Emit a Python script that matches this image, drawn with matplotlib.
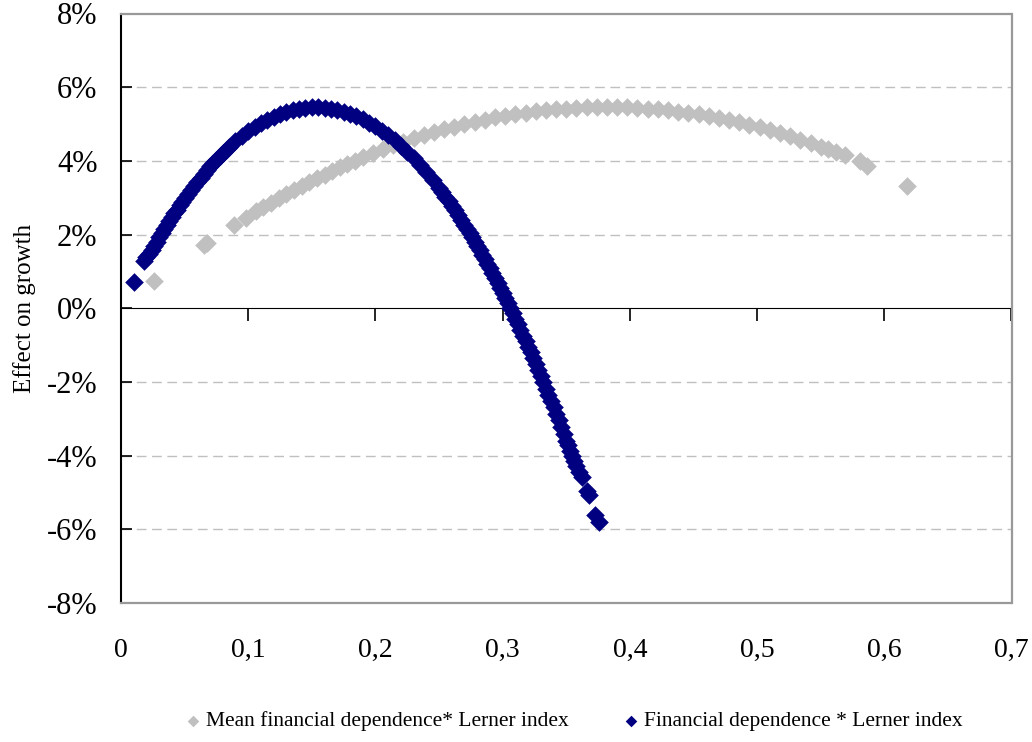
import matplotlib
matplotlib.use("Agg")
import matplotlib.pyplot as plt
from matplotlib.ticker import FuncFormatter, FixedLocator

# ---- data ----
mean_x = [0.0256, 0.0650, 0.0677, 0.0887, 0.0980, 0.1058, 0.112, 0.118, 0.124, 0.130,
          0.136, 0.142, 0.148, 0.154, 0.160, 0.166, 0.172, 0.178, 0.184, 0.190,
          0.198, 0.206, 0.214, 0.222, 0.230, 0.238, 0.246, 0.254, 0.262, 0.270,
          0.278, 0.286, 0.294, 0.302, 0.310, 0.318, 0.326, 0.334, 0.342, 0.350,
          0.358, 0.366, 0.374, 0.382, 0.390, 0.398, 0.406, 0.414, 0.422, 0.430,
          0.438, 0.446, 0.454, 0.462, 0.470, 0.478, 0.486, 0.494, 0.502, 0.510,
          0.518, 0.526, 0.534, 0.542, 0.550, 0.556, 0.562, 0.5688, 0.5807, 0.5865,
          0.618]
mean_y = [0.73, 1.72, 1.77, 2.27, 2.46, 2.63, 2.75, 2.87, 2.99, 3.10,
          3.22, 3.32, 3.43, 3.53, 3.63, 3.73, 3.83, 3.92, 4.01, 4.10,
          4.21, 4.31, 4.42, 4.51, 4.61, 4.69, 4.78, 4.86, 4.93, 5.00,
          5.06, 5.12, 5.18, 5.23, 5.27, 5.31, 5.35, 5.38, 5.40, 5.42,
          5.44, 5.45, 5.46, 5.46, 5.46, 5.45, 5.44, 5.42, 5.40, 5.37,
          5.34, 5.30, 5.26, 5.21, 5.16, 5.11, 5.05, 4.98, 4.91, 4.84,
          4.76, 4.67, 4.58, 4.49, 4.39, 4.31, 4.23, 4.15, 3.99, 3.87,
          3.32]

fin_x = [0.0103, 0.018, 0.020, 0.022, 0.024, 0.026, 0.028, 0.030, 0.032, 0.034,
         0.036, 0.038, 0.040, 0.042, 0.044, 0.046, 0.048, 0.050, 0.0525, 0.055,
         0.0575, 0.060, 0.0625, 0.065, 0.0675, 0.070, 0.0725, 0.075, 0.0775, 0.080,
         0.0825, 0.085, 0.090, 0.095, 0.100, 0.105, 0.110, 0.115, 0.120, 0.125,
         0.130, 0.135, 0.140, 0.145, 0.150, 0.155, 0.160, 0.165, 0.170, 0.175,
         0.180, 0.185, 0.190, 0.195, 0.200, 0.205, 0.210, 0.215, 0.220, 0.225,
         0.230, 0.235, 0.240, 0.245, 0.250, 0.2525, 0.255, 0.2575, 0.260, 0.2625,
         0.265, 0.2675, 0.270, 0.272, 0.274, 0.276, 0.278, 0.280, 0.282, 0.284,
         0.286, 0.288, 0.290, 0.292, 0.294, 0.296, 0.298, 0.300, 0.302, 0.304,
         0.306, 0.308, 0.310, 0.312, 0.314, 0.316, 0.318, 0.320, 0.322, 0.324,
         0.326, 0.328, 0.330, 0.332, 0.334, 0.336, 0.338, 0.340, 0.342, 0.344,
         0.346, 0.348, 0.350, 0.3515, 0.353, 0.3545, 0.356, 0.3575, 0.360, 0.3623,
         0.3660, 0.3676, 0.3729, 0.3755]
fin_y = [0.71, 1.28, 1.38, 1.46, 1.58, 1.70, 1.81, 1.93, 2.04, 2.15,
         2.26, 2.37, 2.48, 2.58, 2.68, 2.79, 2.88, 2.98, 3.10, 3.21,
         3.33, 3.44, 3.54, 3.65, 3.75, 3.85, 3.94, 4.03, 4.12, 4.21,
         4.29, 4.37, 4.53, 4.67, 4.80, 4.91, 5.02, 5.11, 5.20, 5.27,
         5.33, 5.37, 5.41, 5.44, 5.45, 5.45, 5.44, 5.42, 5.38, 5.34,
         5.28, 5.21, 5.13, 5.04, 4.94, 4.82, 4.69, 4.56, 4.40, 4.24,
         4.07, 3.88, 3.69, 3.48, 3.26, 3.15, 3.03, 2.91, 2.78, 2.66,
         2.53, 2.40, 2.26, 2.15, 2.04, 1.93, 1.81, 1.69, 1.58, 1.45,
         1.33, 1.21, 1.08, 0.95, 0.82, 0.69, 0.55, 0.42, 0.28, 0.14,
         0.00, -0.14, -0.29, -0.44, -0.58, -0.74, -0.89, -1.04, -1.20, -1.36,
         -1.52, -1.68, -1.84, -2.01, -2.18, -2.35, -2.52, -2.69, -2.87, -3.04,
         -3.23, -3.40, -3.59, -3.72, -3.87, -4.00, -4.15, -4.29, -4.45, -4.58,
         -4.95, -5.08, -5.62, -5.80]

x_ticks = [0, 0.1, 0.2, 0.3, 0.4, 0.5, 0.6, 0.7]
x_tick_labels = ["0", "0,1", "0,2", "0,3", "0,4", "0,5", "0,6", "0,7"]
y_ticks = [-8, -6, -4, -2, 0, 2, 4, 6, 8]

series_names = ["Mean financial dependence* Lerner index",
                "Financial dependence * Lerner index"]
colors = ["#c0c0c0", "#000080"]

plt.rcParams['font.family'] = ['Liberation Serif', 'DejaVu Serif']

fig = plt.figure(figsize=(10.32, 7.42), dpi=100)
ax = fig.add_axes([121/1032, 1 - 603/742, (1011.5 - 121)/1032, (603 - 13.5)/742])

ax.scatter(mean_x, mean_y, marker='D', s=90, color=colors[0], linewidths=0,
           label=series_names[0], zorder=3)
ax.scatter(fin_x, fin_y, marker='D', s=90, color=colors[1], linewidths=0,
           label=series_names[1], zorder=4)

ax.set_xlim(0, 0.7)
ax.set_ylim(-8, 8)

# gridlines
for yv in y_ticks:
    if yv not in (0, 8, -8):
        ax.axhline(yv, color="#c0c0c0", linewidth=1.0, dashes=(7, 4), zorder=1)

# frame
for side in ["top", "right", "bottom"]:
    ax.spines[side].set_color("#999999")
    ax.spines[side].set_linewidth(1.6)
ax.spines["left"].set_color("black")
ax.spines["left"].set_linewidth(1.5)

ax.yaxis.set_major_locator(FixedLocator(y_ticks))
ax.yaxis.set_major_formatter(FuncFormatter(lambda v, p: f"{int(round(v))}%"))
ax.tick_params(axis='y', direction='in', length=8, width=1.2, color='black',
               labelsize=22, pad=17)

ax.set_xticks(x_ticks)
ax.set_xticklabels(x_tick_labels)
ax.tick_params(axis='x', length=0, labelsize=20, pad=25)

# x axis line at zero with upward ticks
sec = ax.secondary_xaxis(0.5)
sec.set_xticks(x_ticks)
sec.set_xticklabels([])
sec.spines['bottom'].set_color('black')
sec.spines['bottom'].set_linewidth(1.3)
sec.tick_params(axis='x', direction='in', length=9, width=1.2, color='black')

ax.set_ylabel("Effect on growth", fontsize=18)
ax.yaxis.set_label_coords(-0.095, 0.5)

fig.legend(loc='lower center', bbox_to_anchor=(0.554, 0.0), ncol=2, frameon=False,
           fontsize=15.5, handletextpad=0.0, handlelength=1.2, columnspacing=2.3,
           markerscale=0.62, borderaxespad=0.1)

fig.savefig("out.png", dpi=100)
